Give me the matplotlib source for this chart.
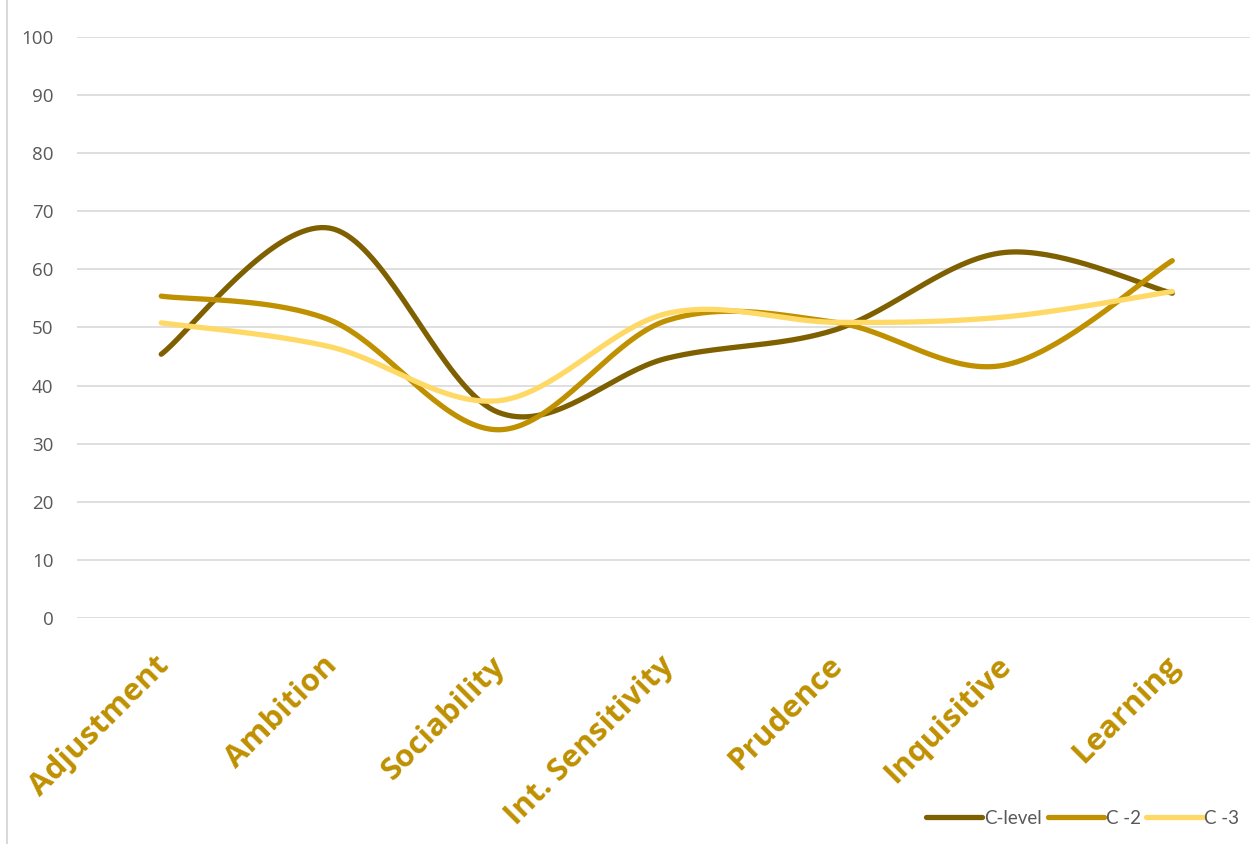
import matplotlib
matplotlib.use("Agg")
import matplotlib.pyplot as plt
from matplotlib.lines import Line2D
import numpy as np

categories = ["Adjustment", "Ambition", "Sociability", "Int. Sensitivity",
              "Prudence", "Inquisitive", "Learning"]
c_level = [45.4, 67.1, 35.4, 44.7, 49.6, 62.9, 55.9]
c_2 = [55.4, 51.3, 32.4, 51.2, 50.9, 43.5, 61.5]
c_3 = [50.8, 46.7, 37.4, 52.4, 50.9, 51.8, 56.2]

series = [("C-level", c_level, "#7F6000"),
          ("C -2", c_2, "#BF9000"),
          ("C -3", c_3, "#FFD966")]


def smooth(xs, ys, n=40):
    # catmull-rom style bezier, like a spreadsheet "smoothed line"
    p = np.column_stack([xs, ys]).astype(float)
    p = np.vstack([p[0], p, p[-1]])
    out = []
    for i in range(1, len(p) - 2):
        p0, p1, p2, p3 = p[i - 1], p[i], p[i + 1], p[i + 2]
        c1 = p1 + (p2 - p0) / 6
        c2 = p2 - (p3 - p1) / 6
        t = np.linspace(0, 1, n)[:, None]
        seg = ((1 - t) ** 3 * p1 + 3 * (1 - t) ** 2 * t * c1
               + 3 * (1 - t) * t ** 2 * c2 + t ** 3 * p2)
        out.append(seg if i == 1 else seg[1:])
    out = np.vstack(out)
    return out[:, 0], out[:, 1]


plt.rcParams["font.family"] = ["Open Sans", "DejaVu Sans"]

fig = plt.figure(figsize=(12.5, 8.44), dpi=100)
ax = fig.add_axes([77 / 1250, 226 / 844, 1179.5 / 1250, 581 / 844])

x = np.arange(len(categories))
for name, vals, col in series:
    sx, sy = smooth(x, vals)
    ax.plot(sx, sy, color=col, lw=3.8, solid_capstyle="round",
            solid_joinstyle="round", label=name)

ax.set_xlim(-0.5, len(categories) - 0.5)
ax.set_ylim(0, 100)
ax.set_yticks(range(0, 101, 10))
ax.grid(axis="y", color="#D9D9D9", lw=1.2)
ax.set_axisbelow(True)
for s in ax.spines.values():
    s.set_visible(False)
ax.tick_params(axis="y", length=0, pad=17, labelsize=13.5, labelcolor="#595959")
ax.set_xticks(x)
ax.set_xticklabels([])
ax.tick_params(axis="x", length=0)

# category names, rotated under each point
for i, name in enumerate(categories):
    ax.text(i - 0.045, -5.6, name, rotation=45, ha="right", va="top",
            rotation_mode="anchor", fontsize=22.5, fontweight="bold",
            color="#BF9000", clip_on=False)

fig.legend(loc="lower right", bbox_to_anchor=(1247 / 1250, 10 / 844),
           ncol=3, frameon=False, handlelength=3.0,
           handletextpad=0.1, columnspacing=0.3, labelcolor="#595959",
           borderaxespad=0, prop={"family": ["Lato", "DejaVu Sans"], "size": 13.5})

fig.add_artist(Line2D([7 / 1250, 7 / 1250], [0, 1], color="#D9D9D9", lw=1.5,
                      transform=fig.transFigure))

fig.savefig("out.png", dpi=100)
